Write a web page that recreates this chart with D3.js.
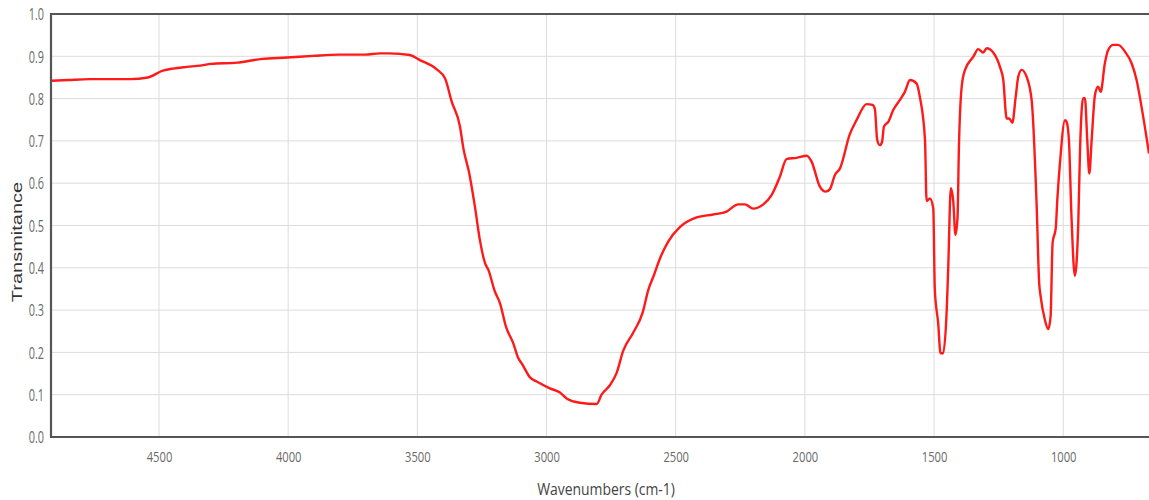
<!DOCTYPE html>
<html>
<head>
<meta charset="utf-8">
<script src="https://cdn.jsdelivr.net/npm/d3@7"></script>
<style>
  body { margin: 0; background: #fff; }
</style>
</head>
<body>
<script>
// wavenumber (cm-1)
const wavenumbers = [4918, 4850, 4767, 4700, 4612, 4543, 4485, 4446, 4392, 4341, 4299, 4198, 4101, 4005,
  3904, 3803, 3703, 3645, 3606, 3529, 3490, 3425, 3393, 3367, 3335, 3322, 3299, 3277, 3258, 3238,
  3225, 3200, 3180, 3157, 3129, 3109, 3096, 3064, 3038, 2987, 2948, 2922, 2871, 2806, 2787, 2754,
  2729, 2703, 2664, 2628, 2606, 2584, 2561, 2529, 2484, 2419, 2355, 2303, 2258, 2232, 2200, 2161,
  2129, 2097, 2071, 2032, 1993, 1974, 1942, 1919, 1903, 1884, 1864, 1826, 1800, 1761, 1738, 1729,
  1720, 1710, 1701, 1694, 1677, 1658, 1632, 1613, 1593, 1568, 1555, 1535, 1529, 1516, 1503, 1497,
  1484, 1475, 1465, 1451, 1445, 1435, 1426, 1417, 1409, 1404, 1393, 1380, 1348, 1329, 1310, 1296,
  1271, 1245, 1232, 1219, 1209, 1197, 1184, 1174, 1161, 1142, 1122, 1103, 1093, 1088, 1071, 1058,
  1049, 1041, 1029, 1023, 1013, 993, 987, 978, 968, 955, 942, 935, 923, 916, 907, 899, 890, 877,
  865, 855, 839, 826, 806, 787, 761, 735, 716, 697, 668];
const transmitance = [0.842, 0.844, 0.846, 0.846, 0.846, 0.850, 0.866, 0.871, 0.875, 0.878, 0.882, 0.885, 0.894, 0.897,
  0.901, 0.904, 0.904, 0.907, 0.907, 0.903, 0.891, 0.869, 0.848, 0.793, 0.734, 0.683, 0.623, 0.544, 0.466, 0.411,
  0.395, 0.344, 0.316, 0.261, 0.222, 0.186, 0.174, 0.141, 0.131, 0.115, 0.105, 0.091, 0.081, 0.078, 0.100, 0.123,
  0.151, 0.204, 0.247, 0.294, 0.348, 0.383, 0.422, 0.462, 0.496, 0.519, 0.526, 0.533, 0.550, 0.550, 0.540, 0.550,
  0.572, 0.615, 0.657, 0.660, 0.665, 0.651, 0.592, 0.580, 0.586, 0.619, 0.635, 0.716, 0.749, 0.787, 0.785, 0.775,
  0.702, 0.690, 0.698, 0.734, 0.745, 0.773, 0.797, 0.816, 0.844, 0.836, 0.804, 0.702, 0.558, 0.564, 0.540, 0.348,
  0.269, 0.198, 0.198, 0.300, 0.403, 0.588, 0.560, 0.478, 0.521, 0.678, 0.828, 0.868, 0.899, 0.917, 0.909, 0.919,
  0.909, 0.875, 0.844, 0.753, 0.753, 0.743, 0.804, 0.852, 0.868, 0.852, 0.795, 0.550, 0.363, 0.335, 0.277, 0.255,
  0.284, 0.460, 0.493, 0.560, 0.645, 0.749, 0.745, 0.702, 0.520, 0.381, 0.500, 0.678, 0.801, 0.801, 0.702, 0.623, 0.702, 0.809,
  0.828, 0.816, 0.883, 0.915, 0.927, 0.927, 0.911, 0.883, 0.844, 0.781, 0.670];
const xTicks = [4500, 4000, 3500, 3000, 2500, 2000, 1500, 1000];
const yTicks = [0, 0.1, 0.2, 0.3, 0.4, 0.5, 0.6, 0.7, 0.8, 0.9, 1.0];
const xDomain = [4918, 668];
const yDomain = [0, 1];

const width = 1149;
const height = 500;
const margin = { top: 14, right: 0, bottom: 63, left: 51 };

const data = wavenumbers.map((w, i) => ({ w: w, t: transmitance[i] }));

const xScale = d3.scaleLinear()
                 .domain(xDomain)
                 .range([margin.left, width - margin.right]);
const yScale = d3.scaleLinear()
                 .domain(yDomain)
                 .range([height - margin.bottom, margin.top]);

const svg = d3.select("body")
              .append("svg")
              .attr("width", width)
              .attr("height", height);

// grid
svg.append("g")
   .selectAll("line")
   .data(yTicks)
   .enter()
   .append("line")
   .attr("x1", margin.left)
   .attr("x2", width - margin.right)
   .attr("y1", d => yScale(d))
   .attr("y2", d => yScale(d))
   .style("stroke", "#dcdcdc")
   .style("stroke-width", 1);
svg.append("g")
   .selectAll("line")
   .data(xTicks)
   .enter()
   .append("line")
   .attr("x1", d => xScale(d))
   .attr("x2", d => xScale(d))
   .attr("y1", margin.top)
   .attr("y2", height - margin.bottom)
   .style("stroke", "#dcdcdc")
   .style("stroke-width", 1);

// spectrum
const line = d3.line()
               .x(d => xScale(d.w))
               .y(d => yScale(d.t))
               .curve(d3.curveMonotoneX);
svg.append("path")
   .datum(data)
   .attr("d", line)
   .style("fill", "none")
   .style("stroke", "#ff1a1a")
   .style("stroke-width", 2.4)
   .style("stroke-linejoin", "round");

// axes
const xAxis = d3.axisBottom(xScale)
                .tickValues(xTicks)
                .tickSize(0)
                .tickPadding(0)
                .tickFormat(d3.format("d"));
const yAxis = d3.axisLeft(yScale)
                .tickValues(yTicks)
                .tickSize(0)
                .tickPadding(0)
                .tickFormat(d3.format(".1f"));

const gx = svg.append("g")
              .attr("transform", "translate(0, " + (height - margin.bottom) + ")")
              .call(xAxis);
gx.select(".domain").remove();
gx.selectAll("text")
  .attr("y", 0)
  .attr("dy", null)
  .attr("transform", "translate(0, 25) scale(0.8, 1)")
  .style("font-family", "'Open Sans', sans-serif")
  .style("font-size", "14px")
  .style("fill", "#6a6a6a");

const gy = svg.append("g")
              .attr("transform", "translate(" + margin.left + ", 0)")
              .call(yAxis);
gy.select(".domain").remove();
gy.selectAll("text")
  .attr("x", 0)
  .attr("dy", "0.36em")
  .attr("transform", "translate(-7, 0) scale(0.68, 1)")
  .style("font-family", "'Open Sans', sans-serif")
  .style("font-size", "16px")
  .style("fill", "#6a6a6a");

// frame
svg.append("path")
   .attr("d", "M" + (width - margin.right) + "," + margin.top +
              "H" + margin.left +
              "V" + (height - margin.bottom) +
              "H" + (width - margin.right))
   .style("fill", "none")
   .style("stroke", "#555")
   .style("stroke-width", 2.2);

// labels
svg.append("text")
   .attr("transform", "translate(21.5, 242) rotate(-90) scale(1, 0.7)")
   .attr("text-anchor", "middle")
   .style("font-family", "'Liberation Sans', Arial, sans-serif")
   .style("font-size", "20px")
   .style("fill", "#333")
   .text("Transmitance");

svg.append("text")
   .attr("transform", "translate(606, 495) scale(0.87, 1)")
   .attr("text-anchor", "middle")
   .style("font-family", "'Open Sans', sans-serif")
   .style("font-size", "16px")
   .style("fill", "#444")
   .text("Wavenumbers (cm-1)");
</script>
</body>
</html>
